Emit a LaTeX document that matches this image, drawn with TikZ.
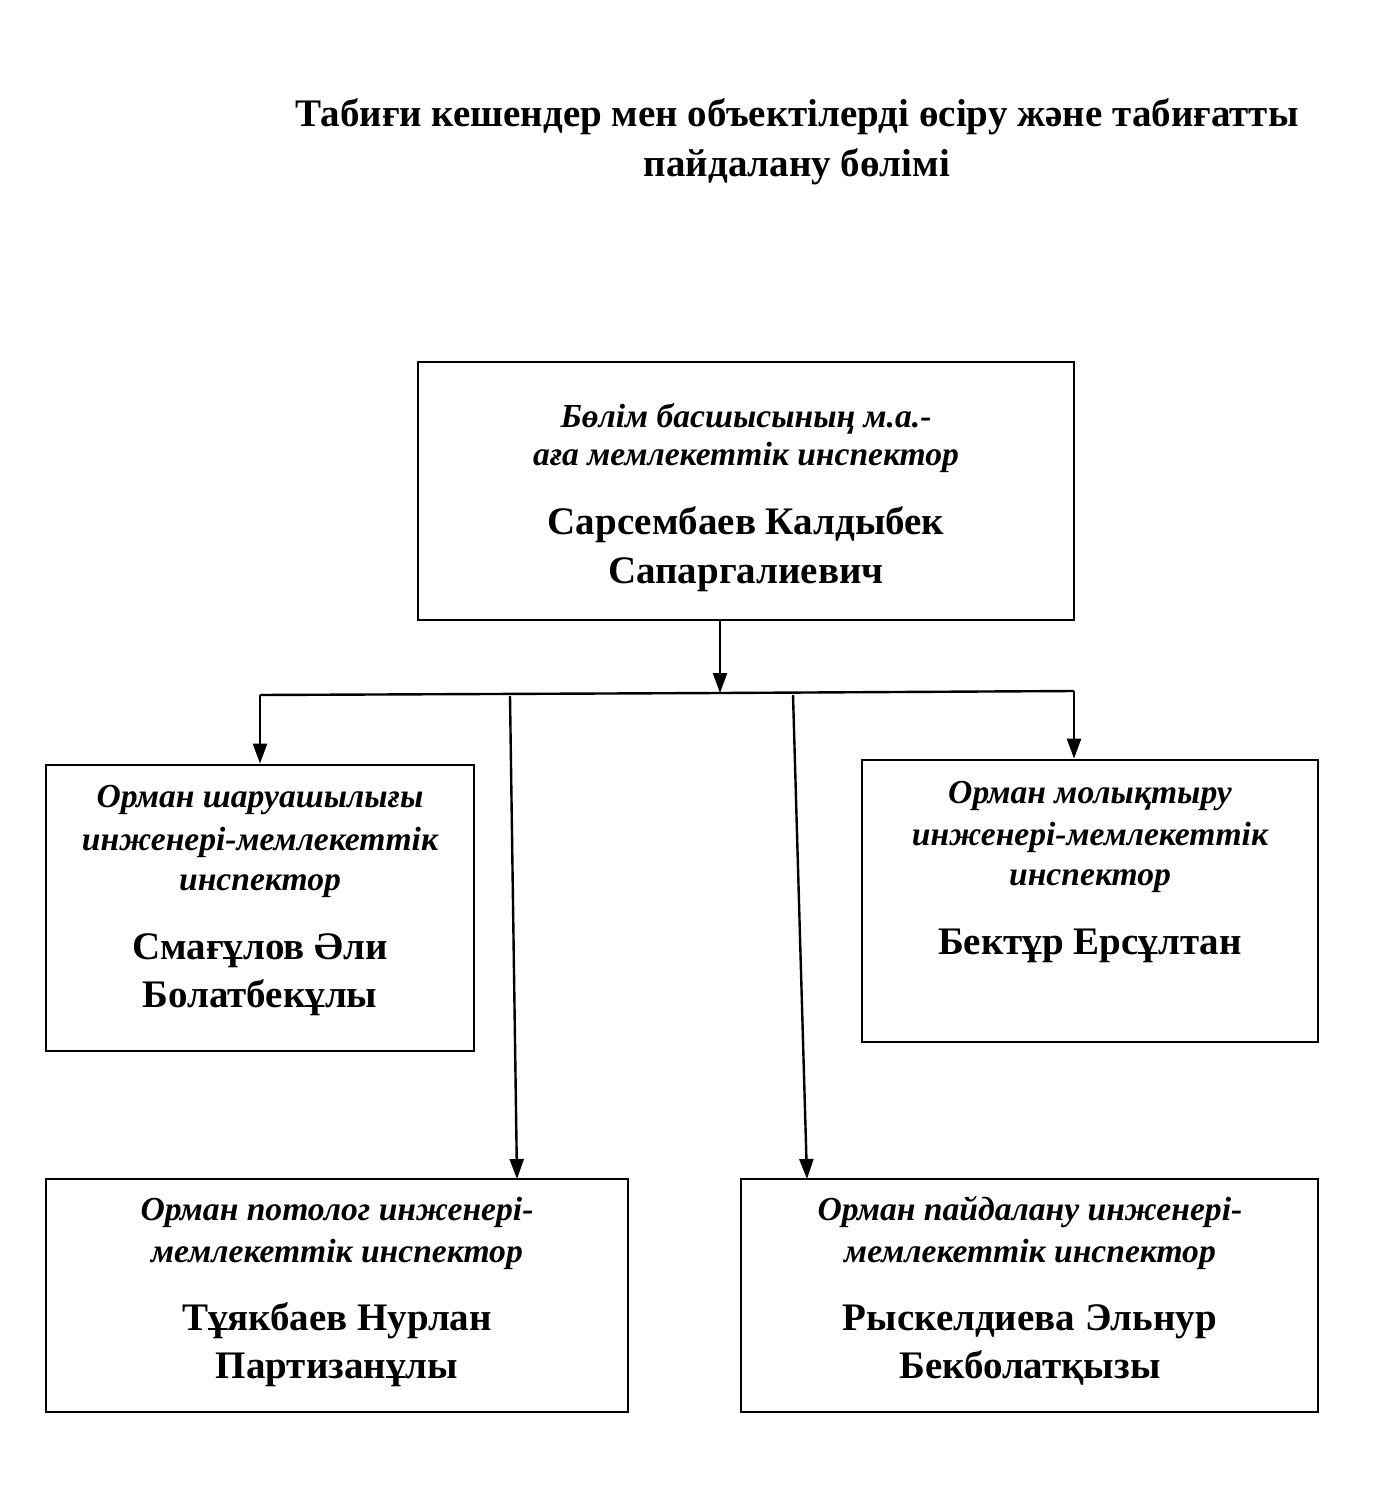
\documentclass[tikz,border=0pt]{standalone}
\usepackage{fontspec}
\setmainfont{Liberation Serif}
\usetikzlibrary{arrows.meta}
\tikzset{
  box/.style={draw, line width=1.1pt, inner sep=0pt, fill=none},
  role/.style={anchor=base, inner sep=0pt, font=\fontsize{16.8}{20}\selectfont\bfseries\itshape},
  person/.style={anchor=base, inner sep=0pt, font=\fontsize{19.5}{23}\selectfont\bfseries},
  heading/.style={anchor=base, inner sep=0pt, font=\fontsize{19.5}{23}\selectfont\bfseries},
  conn/.style={line width=1.2pt},
  arr/.style={line width=1.2pt, -{Triangle[width=7pt,length=10pt]}}
}
\begin{document}
\begin{tikzpicture}[x=0.5pt,y=-0.5pt]
\useasboundingbox (0,0) rectangle (1384,1486);
% title
\node[heading] (t1) at (797,127) {Табиғи кешендер мен объектілерді өсіру және табиғатты};
\node[heading] (t2) at (797,177) {пайдалану бөлімі};
% boxes
\node[box, line width=0.9pt, minimum width=328pt, minimum height=129pt] (top) at (746,491) {};
\node[box, line width=1.4pt, minimum width=214pt, minimum height=143pt] (bl) at (260,908) {};
\node[box, line width=1.4pt, minimum width=228pt, minimum height=141pt] (br) at (1090,901) {};
\node[box, line width=1.2pt, minimum width=291pt, minimum height=116.5pt] (cl) at (337,1295.5) {};
\node[box, line width=1.2pt, minimum width=288.5pt, minimum height=116.5pt] (cr) at (1029.5,1295.5) {};
% top text
\node[role] (a1) at (746,428) {Бөлім басшысының м.а.-};
\node[role] (a2) at (746,466) {аға мемлекеттік инспектор};
\node[person] (a3) at (746,534) {Сарсембаев Калдыбек};
\node[person] (a4) at (746,583) {Сапаргалиевич};
% left box text
\node[role] (b1) at (260,807) {Орман шаруашылығы};
\node[role] (b2) at (260,850) {инженері-мемлекеттік};
\node[role] (b3) at (260,890) {инспектор};
\node[person] (b4) at (260,959) {Смағұлов Әли};
\node[person] (b5) at (260,1007) {Болатбекұлы};
% right box text
\node[role] (c1) at (1090,803) {Орман молықтыру};
\node[role] (c2) at (1090,845) {инженері-мемлекеттік};
\node[role] (c3) at (1090,885) {инспектор};
\node[person] (c4) at (1090,954) {Бектұр Ерсұлтан};
% bottom left text
\node[role] (d1) at (337,1220) {Орман потолог инженері-};
\node[role] (d2) at (337,1262) {мемлекеттік инспектор};
\node[person] (d3) at (337,1330) {Тұякбаев Нурлан};
\node[person] (d4) at (337,1378) {Партизанұлы};
% bottom right text
\node[role] (e1) at (1030,1220) {Орман пайдалану инженері-};
\node[role] (e2) at (1030,1262) {мемлекеттік инспектор};
\node[person] (e3) at (1030,1330) {Рыскелдиева Эльнур};
\node[person] (e4) at (1030,1378) {Бекболатқызы};
% connectors
\coordinate (hub) at (720,693);
\coordinate (busL) at (260,695);
\coordinate (busR) at (1074,691);
\coordinate (s1) at (510,696);
\coordinate (s2) at (793,695);
\coordinate (e1t) at (517,1179);
\coordinate (e2t) at (807,1179);
\draw[arr] (top.south -| hub) -- (hub);
\draw[conn] (busL) -- (hub) -- (busR);
\draw[arr] (busL) -- (busL |- bl.north);
\draw[arr] (busR) -- (busR |- br.north);
\draw[arr] (s1) -- (e1t);
\draw[arr] (s2) -- (e2t);
\end{tikzpicture}
\end{document}
